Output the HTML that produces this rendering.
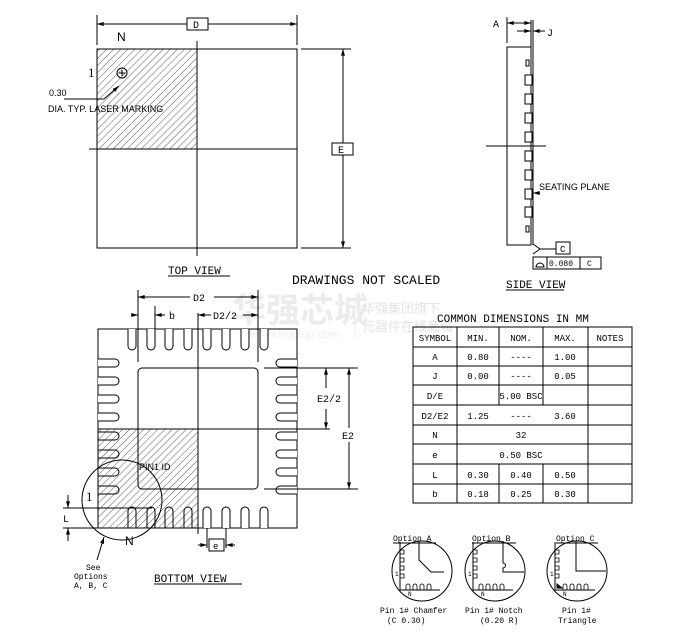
<!DOCTYPE html>
<html><head><meta charset="utf-8"><style>
html,body{margin:0;padding:0;background:#fff;}
svg{display:block;font-family:"Liberation Mono","DejaVu Sans Mono",monospace;}
</style></head><body>
<svg width="689" height="637" viewBox="0 0 689 637" xmlns="http://www.w3.org/2000/svg">
<defs>
<pattern id="h" patternUnits="userSpaceOnUse" width="5" height="5" patternTransform="rotate(45)">
<line x1="0" y1="0" x2="0" y2="5" stroke="#333" stroke-width="0.8"/>
</pattern>
<marker id="a" viewBox="0 0 10 6" refX="10" refY="3" markerWidth="7" markerHeight="4" orient="auto-start-reverse"><path d="M0,0L10,3L0,6z" fill="#000"/></marker>
</defs>
<g stroke="#000" fill="none" stroke-width="1">
<!-- watermark -->
<text x="232" y="322" font-family="Noto Sans CJK SC,sans-serif" font-size="34" font-weight="bold" fill="#ececec" stroke="none">华强芯城</text>
<text x="250" y="338" font-family="Liberation Sans,sans-serif" font-size="12" fill="#eeeeee" stroke="none">www.hqchip.com</text>
<line x1="355" y1="298" x2="355" y2="338" stroke="#eeeeee"/>
<text x="362" y="313" font-family="Noto Sans CJK SC,sans-serif" font-size="13" fill="#e4e4e4" stroke="none">华强集团旗下</text>
<text x="362" y="331" font-family="Noto Sans CJK SC,sans-serif" font-size="13" fill="#e4e4e4" stroke="none">元器件在线商城</text>

<!-- TOP VIEW -->
<rect x="97" y="49" width="100" height="100" fill="url(#h)" stroke="none"/>
<rect x="97" y="49" width="200" height="199"/>
<line x1="197" y1="41" x2="197" y2="256"/>
<line x1="89" y1="149" x2="297" y2="149"/>
<line x1="97" y1="15" x2="97" y2="45"/><line x1="297" y1="15" x2="297" y2="45"/>
<line x1="97" y1="24" x2="187" y2="24" marker-start="url(#a)"/>
<line x1="208" y1="24" x2="297" y2="24" marker-end="url(#a)"/>
<rect x="187" y="18" width="21" height="12"/>
<text x="193" y="28" font-size="10" fill="#000" stroke="none">D</text>
<line x1="301" y1="49" x2="351" y2="49"/><line x1="301" y1="248" x2="351" y2="248"/>
<line x1="343" y1="49" x2="343" y2="143" marker-start="url(#a)"/>
<line x1="343" y1="155" x2="343" y2="248" marker-end="url(#a)"/>
<rect x="332" y="143" width="21" height="12" fill="#fff"/>
<text x="338" y="153" font-size="10" fill="#000" stroke="none">E</text>
<text x="117" y="41" font-family="Liberation Sans,sans-serif" font-size="12" fill="#000" stroke="none">N</text>
<text x="88" y="77" font-family="Liberation Serif,serif" font-size="13" fill="#000" stroke="none">1</text>
<circle cx="122" cy="73" r="5"/><line x1="119" y1="73" x2="125" y2="73"/><line x1="122" y1="70" x2="122" y2="76"/>
<line x1="64" y1="99" x2="104" y2="99"/><line x1="104" y1="99" x2="119" y2="86" marker-end="url(#a)"/>
<text x="49" y="96" font-family="Liberation Sans,sans-serif" font-size="9" fill="#000" stroke="none">0.30</text>
<text x="48" y="112" font-family="Liberation Sans,sans-serif" font-size="9" fill="#000" stroke="none">DIA. TYP. LASER MARKING</text>
<text x="168" y="274" font-size="11" fill="#000" stroke="none">TOP VIEW</text>
<line x1="168" y1="276" x2="230" y2="276"/>
<text x="292" y="284" font-size="13" fill="#000" stroke="none">DRAWINGS NOT SCALED</text>

<!-- SIDE VIEW -->
<rect x="507" y="47" width="24" height="198"/>
<line x1="531" y1="20" x2="531" y2="245"/><line x1="533" y1="20" x2="533" y2="245"/>
<line x1="507" y1="17" x2="507" y2="43"/>
<line x1="507" y1="23" x2="531" y2="23" marker-start="url(#a)" marker-end="url(#a)"/>
<line x1="517" y1="31" x2="531" y2="31" marker-end="url(#a)"/><line x1="545" y1="31" x2="533" y2="31" marker-end="url(#a)"/>
<text x="493" y="27" font-size="10" fill="#000" stroke="none">A</text>
<text x="547" y="36" font-size="10" fill="#000" stroke="none">J</text>
<rect x="526" y="60" width="3" height="6"/>
<rect x="525" y="75" width="7" height="10" fill="#fff"/><rect x="525" y="94" width="7" height="10" fill="#fff"/>
<rect x="525" y="113" width="7" height="10" fill="#fff"/><rect x="525" y="132" width="7" height="10" fill="#fff"/>
<rect x="525" y="151" width="7" height="10" fill="#fff"/><rect x="525" y="170" width="7" height="10" fill="#fff"/>
<rect x="525" y="189" width="7" height="10" fill="#fff"/><rect x="525" y="207" width="7" height="10" fill="#fff"/>
<rect x="526" y="226" width="3" height="6"/>
<line x1="486" y1="146" x2="546" y2="146"/>
<line x1="540" y1="193" x2="533" y2="193" marker-end="url(#a)"/>
<text x="539" y="190" font-family="Liberation Sans,sans-serif" font-size="9" fill="#000" stroke="none">SEATING PLANE</text>
<path d="M533,244L540,249L533,254"/><line x1="540" y1="249" x2="556" y2="249"/>
<rect x="556" y="242" width="14" height="12"/><text x="560" y="252" font-size="9" fill="#000" stroke="none">C</text>
<rect x="533" y="257" width="68" height="12"/><line x1="547" y1="257" x2="547" y2="269"/><line x1="580" y1="257" x2="580" y2="269"/>
<path d="M536,267A4,4 0 0 1 544,267Z"/>
<text x="549" y="266" font-size="8" fill="#000" stroke="none">0.080</text>
<text x="587" y="266" font-size="8" fill="#000" stroke="none">C</text>
<text x="506" y="288" font-size="11" fill="#000" stroke="none">SIDE VIEW</text>
<line x1="506" y1="290" x2="564" y2="290"/>

<!-- BOTTOM VIEW -->
<rect x="98" y="429" width="100" height="99" fill="url(#h)" stroke="none"/>
<rect x="98" y="329" width="199" height="199"/>
<rect x="138" y="368" width="120" height="121" rx="4"/>
<line x1="198" y1="313" x2="198" y2="534"/><line x1="98" y1="429" x2="330" y2="429"/>
<g fill="#fff">
<path d="M128,329v17a4,4 0 0 0 8,0v-17"/><path d="M147,329v17a4,4 0 0 0 8,0v-17"/>
<path d="M165,329v17a4,4 0 0 0 8,0v-17"/><path d="M184,329v17a4,4 0 0 0 8,0v-17"/>
<path d="M203,329v17a4,4 0 0 0 8,0v-17"/><path d="M222,329v17a4,4 0 0 0 8,0v-17"/>
<path d="M241,329v17a4,4 0 0 0 8,0v-17"/><path d="M260,329v17a4,4 0 0 0 8,0v-17"/>
<path d="M128,528v-17a4,4 0 0 1 8,0v17" fill="none"/><path d="M147,528v-17a4,4 0 0 1 8,0v17" fill="none"/>
<path d="M165,528v-17a4,4 0 0 1 8,0v17" fill="none"/><path d="M184,528v-17a4,4 0 0 1 8,0v17" fill="none"/>
<path d="M203,528v-17a4,4 0 0 1 8,0v17"/><path d="M222,528v-17a4,4 0 0 1 8,0v17"/>
<path d="M241,528v-17a4,4 0 0 1 8,0v17"/><path d="M260,528v-17a4,4 0 0 1 8,0v17"/>
<path d="M98,359h17a4,4 0 0 1 0,8h-17"/><path d="M98,377h17a4,4 0 0 1 0,8h-17"/>
<path d="M98,395h17a4,4 0 0 1 0,8h-17"/><path d="M98,413h17a4,4 0 0 1 0,8h-17"/>
<path d="M98,432h17a4,4 0 0 1 0,8h-17" fill="none"/><path d="M98,450h17a4,4 0 0 1 0,8h-17" fill="none"/>
<path d="M98,468h17a4,4 0 0 1 0,8h-17" fill="none"/><path d="M98,486h17a4,4 0 0 1 0,8h-17" fill="none"/>
<path d="M297,359h-17a4,4 0 0 0 0,8h17"/><path d="M297,377h-17a4,4 0 0 0 0,8h17"/>
<path d="M297,395h-17a4,4 0 0 0 0,8h17"/><path d="M297,413h-17a4,4 0 0 0 0,8h17"/>
<path d="M297,432h-17a4,4 0 0 0 0,8h17"/><path d="M297,450h-17a4,4 0 0 0 0,8h17"/>
<path d="M297,468h-17a4,4 0 0 0 0,8h17"/><path d="M297,486h-17a4,4 0 0 0 0,8h17"/>
</g>
<line x1="138" y1="290" x2="138" y2="362"/><line x1="258" y1="290" x2="258" y2="362"/>
<line x1="138" y1="297" x2="190" y2="297" marker-start="url(#a)"/><line x1="214" y1="297" x2="258" y2="297" marker-end="url(#a)"/>
<text x="193" y="301" font-size="10" fill="#000" stroke="none">D2</text>
<line x1="155" y1="306" x2="155" y2="329"/>
<line x1="131" y1="315" x2="138" y2="315" marker-end="url(#a)"/><line x1="165" y1="315" x2="155" y2="315" marker-end="url(#a)"/>
<text x="169" y="319" font-size="10" fill="#000" stroke="none">b</text>
<line x1="198" y1="315" x2="211" y2="315" marker-start="url(#a)"/><line x1="243" y1="315" x2="258" y2="315" marker-end="url(#a)"/>
<text x="213" y="319" font-size="10" fill="#000" stroke="none">D2/2</text>
<line x1="264" y1="368" x2="358" y2="368"/><line x1="264" y1="489" x2="358" y2="489"/>
<line x1="326" y1="368" x2="326" y2="388" marker-start="url(#a)"/><line x1="326" y1="409" x2="326" y2="429" marker-end="url(#a)"/>
<text x="317" y="402" font-size="10" fill="#000" stroke="none">E2/2</text>
<line x1="349" y1="368" x2="349" y2="428" marker-start="url(#a)"/><line x1="349" y1="442" x2="349" y2="489" marker-end="url(#a)"/>
<text x="342" y="439" font-size="10" fill="#000" stroke="none">E2</text>
<circle cx="122" cy="500" r="40"/>
<text x="139" y="470" font-family="Liberation Sans,sans-serif" font-size="9" fill="#000" stroke="none">PIN1 ID</text>
<text x="86" y="501" font-family="Liberation Serif,serif" font-size="13" fill="#000" stroke="none">1</text>
<text x="125" y="545" font-family="Liberation Sans,sans-serif" font-size="12" fill="#000" stroke="none">N</text>
<line x1="63" y1="508" x2="152" y2="508"/><line x1="63" y1="528" x2="98" y2="528"/>
<line x1="68" y1="495" x2="68" y2="508" marker-end="url(#a)"/><line x1="68" y1="541" x2="68" y2="528" marker-end="url(#a)"/>
<text x="63" y="522" font-size="10" fill="#000" stroke="none">L</text>
<line x1="97" y1="560" x2="104" y2="537" marker-end="url(#a)"/>
<text x="86" y="570" font-size="8" fill="#000" stroke="none">See</text>
<text x="74" y="579" font-size="8" fill="#000" stroke="none">Options</text>
<text x="74" y="588" font-size="8" fill="#000" stroke="none">A, B, C</text>
<line x1="207" y1="528" x2="207" y2="548"/><line x1="226" y1="528" x2="226" y2="548"/>
<line x1="198" y1="545" x2="207" y2="545" marker-end="url(#a)"/><line x1="235" y1="545" x2="226" y2="545" marker-end="url(#a)"/>
<rect x="209" y="539" width="15" height="12"/><text x="213" y="549" font-size="9" fill="#000" stroke="none">e</text>
<text x="154" y="582" font-size="11" fill="#000" stroke="none">BOTTOM VIEW</text>
<line x1="154" y1="584" x2="242" y2="584"/>

<!-- TABLE -->
<text x="437" y="322" font-size="11" fill="#000" stroke="none">COMMON DIMENSIONS IN MM</text>
<rect x="413" y="327" width="219" height="176"/>
<line x1="457" y1="327" x2="457" y2="503"/><line x1="588" y1="327" x2="588" y2="503"/>
<line x1="499" y1="327" x2="499" y2="405"/><line x1="543" y1="327" x2="543" y2="405"/>
<line x1="499" y1="464" x2="499" y2="503"/><line x1="543" y1="464" x2="543" y2="503"/>
<line x1="413" y1="347" x2="632" y2="347"/><line x1="413" y1="366" x2="632" y2="366"/>
<line x1="413" y1="385" x2="632" y2="385"/><line x1="413" y1="405" x2="632" y2="405"/>
<line x1="413" y1="425" x2="632" y2="425"/><line x1="413" y1="444" x2="632" y2="444"/>
<line x1="413" y1="464" x2="632" y2="464"/><line x1="413" y1="484" x2="632" y2="484"/>
<g font-size="9" fill="#000" stroke="none" text-anchor="middle">
<text x="435" y="341">SYMBOL</text><text x="478" y="341">MIN.</text><text x="521" y="341">NOM.</text><text x="565" y="341">MAX.</text><text x="610" y="341">NOTES</text>
<text x="435" y="360">A</text><text x="478" y="360">0.80</text><text x="521" y="360">----</text><text x="565" y="360">1.00</text>
<text x="435" y="379">J</text><text x="478" y="379">0.00</text><text x="521" y="379">----</text><text x="565" y="379">0.05</text>
<text x="435" y="399">D/E</text><text x="521" y="399">5.00  BSC</text>
<text x="435" y="419">D2/E2</text><text x="478" y="419">1.25</text><text x="521" y="419">----</text><text x="565" y="419">3.60</text>
<text x="435" y="438">N</text><text x="521" y="438">32</text>
<text x="435" y="458">e</text><text x="521" y="458">0.50  BSC</text>
<text x="435" y="478">L</text><text x="478" y="478">0.30</text><text x="521" y="478">0.40</text><text x="565" y="478">0.50</text>
<text x="435" y="497">b</text><text x="478" y="497">0.18</text><text x="521" y="497">0.25</text><text x="565" y="497">0.30</text>
</g>

<!-- OPTIONS -->
<g font-size="8" fill="#000" stroke="none">
<text x="393" y="541">Option A</text><text x="472" y="541">Option B</text><text x="556" y="541">Option C</text>
<text x="380" y="613">Pin 1# Chamfer</text><text x="387" y="623">(C 0.30)</text>
<text x="465" y="613">Pin 1# Notch</text><text x="480" y="623">(0.20 R)</text>
<text x="562" y="613">Pin 1#</text><text x="558" y="623">Triangle</text>
</g>
<line x1="393" y1="543" x2="436" y2="543"/><line x1="472" y1="543" x2="516" y2="543"/><line x1="556" y1="543" x2="598" y2="543"/>
<g transform="translate(0,-9)">
<circle cx="422" cy="580" r="30"/><circle cx="495" cy="580" r="30"/><circle cx="577" cy="580" r="30"/>
<path d="M400,551V599H440"/><path d="M419,550V569L431,581H444"/>
<path d="M473,551V599H513"/><path d="M503,550V572a2,2 0 0 1 0,5V581H524"/>
<path d="M555,551V599H595"/><path d="M576,550V580H606"/>
<path d="M557,593L562,597H557Z" fill="#000"/>
<g stroke-width="0.8">
<path d="M400,559h4v4h-4M400,567h4v4h-4M400,575h4v4h-4M400,583h4v4h-4"/>
<path d="M406,599v-4a2,2 0 0 1 4,0v4M413,599v-4a2,2 0 0 1 4,0v4M420,599v-4a2,2 0 0 1 4,0v4M427,599v-4a2,2 0 0 1 4,0v4"/>
<path d="M473,559h4v4h-4M473,567h4v4h-4M473,575h4v4h-4M473,583h4v4h-4"/>
<path d="M479,599v-4a2,2 0 0 1 4,0v4M486,599v-4a2,2 0 0 1 4,0v4M493,599v-4a2,2 0 0 1 4,0v4M500,599v-4a2,2 0 0 1 4,0v4"/>
<path d="M555,559h4v4h-4M555,567h4v4h-4M555,575h4v4h-4M555,583h4v4h-4"/>
<path d="M563,599v-4a2,2 0 0 1 4,0v4M570,599v-4a2,2 0 0 1 4,0v4M577,599v-4a2,2 0 0 1 4,0v4M584,599v-4a2,2 0 0 1 4,0v4"/>
</g>
<g font-size="6" fill="#000" stroke="none">
<text x="395" y="585">1</text><text x="408" y="605">N</text>
<text x="468" y="585">1</text><text x="481" y="605">N</text>
<text x="550" y="585">1</text><text x="563" y="605">N</text>
</g>
</g>
</g>
</svg>
</body></html>
